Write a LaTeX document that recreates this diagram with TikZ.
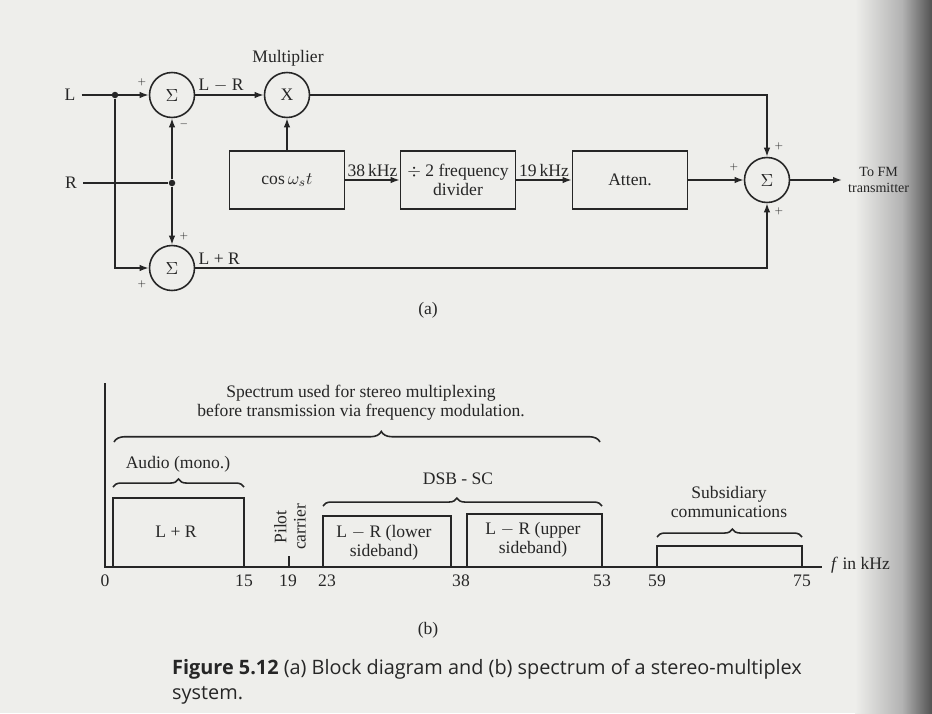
\documentclass[tikz,border=0pt]{standalone}
\usepackage{fontspec}
\setmainfont{Liberation Serif}
\newfontfamily\capfont{Open Sans}
\usetikzlibrary{arrows.meta,positioning,decorations.pathreplacing}
\definecolor{paper}{RGB}{238,238,235}
\definecolor{ink}{RGB}{38,38,38}

\begin{document}
\begin{tikzpicture}[
    x=0.02cm, y=-0.02cm,
    every node/.style={font=\fontsize{10}{11}\selectfont, text=ink},
    w/.style={draw=ink, line width=0.9pt},
    e/.style={w, -{Latex[length=1.8mm, width=1.3mm]}},
    sm/.style={circle, w, minimum size=9mm, inner sep=0pt},
    blk/.style={rectangle, w, minimum width=23mm, minimum height=11.6mm,
                inner sep=2pt, align=center},
    jn/.style={circle, fill=ink, minimum size=1.3mm, inner sep=0pt},
    sg/.style={font=\tiny, inner sep=0pt},
    lbl/.style={inner sep=1.5pt},
    brc/.style={w, decorate, decoration={brace, amplitude=5pt, #1}},
    brc/.default={aspect=0.5},
  ]
  \fill[paper] (0,0) rectangle (932,713);
  \shade[left color=paper, right color=black!30] (855,0) rectangle (902,713);
  \shade[left color=black!30, right color=black!68] (902,0) rectangle (932,713);
  \useasboundingbox (0,0) rectangle (932,713);

  \node (lin) at (70,95) {L};
  \node (rin) at (71,183) {R};
  \node[jn] (jL) at (115,95) {};
  \node[jn] (jR) at (172,183) {};
  \node[sm] (sumA) at (172,95) {$\Sigma$};
  \node[sm] (mult) at (287,95) {X};
  \node (mlab) at (288,58) {Multiplier};
  \node[sm] (sumB) at (172,268) {$\Sigma$};
  \node[sm] (sumC) at (767,180) {$\Sigma$};
  \node[blk] (osc) at (287,180) {$\cos\omega_s t$};
  \node[blk] (div) at (458,180) {$\div$ 2 frequency\\divider};
  \node[blk] (att) at (630,180) {Atten.};
  \node[anchor=west, align=center, font=\fontsize{8}{9}\selectfont] (fm) at (842,180) {To FM\\transmitter};
  \node[sg] (pA1) at (142,82) {$+$};
  \node[sg] (pA2) at (184,124) {$-$};
  \node[sg] (pB1) at (184,236) {$+$};
  \node[sg] (pB2) at (142,284) {$+$};
  \node[sg] (pC1) at (779,146) {$+$};
  \node[sg] (pC2) at (734,167) {$+$};
  \node[sg] (pC3) at (779,211) {$+$};
  \node (tagA) at (428,310) {(a)};

  \draw[e] (lin) -- (sumA);
  \draw[e] (jL) |- (sumB);
  \draw[w] (rin) -- (jR);
  \draw[e] (jR) -- (sumA);
  \draw[e] (jR) -- (sumB);
  \draw[e] (sumA) -- node[lbl, pos=0, above right] {L $-$ R} (mult);
  \draw[e] (osc) -- (mult);
  \draw[e] (osc) -- node[lbl, above] {38\,kHz} (div);
  \draw[e] (div) -- node[lbl, above] {19\,kHz} (att);
  \draw[e] (att) -- (sumC);
  \draw[e] (mult) -| (sumC);
  \draw[e] (sumB) -| node[lbl, pos=0, above right] {L + R} (sumC);
  \draw[e] (sumC) -- (fm);

  \draw[w] (105,383) -- (105,567) -- (822,567);
  \node[anchor=west] (faxis) at (825,565) {\textit{f} in kHz};
  \draw[w] (113,567) |- (244,498) -- (244,567);
  \draw[w] (289,567) -- (289,556);
  \draw[w] (323,567) |- (451,516) -- (451,567);
  \draw[w] (467,567) |- (602,514) -- (602,567);
  \draw[w] (657,567) |- (802,546) -- (802,567);

  \draw[brc={aspect=0.55, amplitude=6pt}] (114,442) -- (600,442);
  \draw[brc={amplitude=4.5pt}] (113,487) -- (244,487);
  \draw[brc={aspect=0.48, amplitude=4.5pt}] (323,506) -- (602,506);
  \draw[brc={aspect=0.52, amplitude=4.5pt}] (657,537) -- (802,537);

  \node[align=center] (spec) at (361,403) {Spectrum used for stereo multiplexing\\before transmission via frequency modulation.};
  \node (audio) at (178,464) {Audio (mono.)};
  \node (dsb) at (458,479) {DSB - SC};
  \node[align=center] (subs) at (729,502) {Subsidiary\\communications};
  \node (lpr) at (176,532) {L + R};
  \node[align=center] (lsb) at (384,543) {L $-$ R (lower\\sideband)};
  \node[align=center] (usb) at (533,540) {L $-$ R (upper\\sideband)};
  \node[rotate=90, align=center] (pilot) at (290,527) {Pilot\\carrier};

  \node (k0) at (105,581) {0};
  \node (k15) at (244,581) {15};
  \node (k19) at (288,581) {19};
  \node (k23) at (327,581) {23};
  \node (k38) at (461,581) {38};
  \node (k53) at (602,581) {53};
  \node (k59) at (657,581) {59};
  \node (k75) at (802,581) {75};
  \node (tagB) at (428,630) {(b)};

  \node[anchor=north west, align=left, font=\capfont\fontsize{11.3}{14.5}\selectfont] (cap) at (166,653)
    {\textbf{Figure 5.12} (a) Block diagram and (b) spectrum of a stereo-multiplex\\system.};
\end{tikzpicture}
\end{document}
